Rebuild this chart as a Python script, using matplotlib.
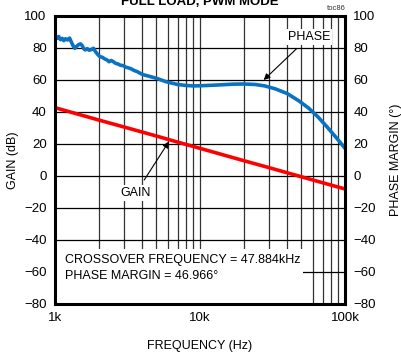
import matplotlib
matplotlib.use("Agg")
import matplotlib.pyplot as plt
import numpy as np
from matplotlib.ticker import FixedLocator, NullFormatter

plt.rcParams['font.family'] = ['Liberation Sans', 'DejaVu Sans']

# Gain curve (Hz, dB)
gain_freq = [1000, 1500, 2000, 3000, 5000, 7000, 10000, 20000, 30000, 47884, 70000, 100000]
gain_db = [42.7, 38.2, 35.0, 30.6, 25.0, 21.2, 17.3, 9.6, 5.2, 0.0, -4.2, -8.1]

# Phase curve (Hz, degrees)
phase_freq = [1000, 1030, 1060, 1090, 1120, 1150, 1180, 1220, 1260, 1300, 1340, 1370,
              1410, 1450, 1500, 1540, 1580, 1620, 1670, 1720, 1780, 1840, 1900, 1970,
              2040, 2120, 2200, 2280, 2360, 2440, 2520, 2620, 2720, 2830, 2950, 3080,
              3200, 3350, 3500, 3700, 3900, 4100, 4350, 4600, 4850, 5100, 5400, 5800,
              6300, 7000, 8000, 9000, 10000, 12000, 14000, 17000, 20000, 24000, 28000,
              33000, 40000, 48000, 56000, 65000, 75000, 87000, 100000]
phase_deg = [87.5, 86.0, 87.2, 85.2, 86.0, 84.6, 85.8, 85.0, 86.2, 83.5, 81.0, 79.8,
             81.0, 82.0, 82.6, 81.5, 79.5, 78.8, 79.6, 78.6, 79.0, 79.8, 77.8, 76.0,
             74.6, 74.2, 73.2, 72.6, 71.4, 72.2, 71.5, 70.4, 70.0, 69.2, 69.0, 68.0,
             67.6, 67.0, 66.0, 65.2, 64.0, 63.2, 62.6, 62.0, 61.4, 60.8, 60.0, 59.0,
             58.2, 57.2, 56.6, 56.3, 56.4, 56.7, 57.0, 57.4, 57.5, 57.2, 56.3,
             54.5, 51.5, 47.0, 42.5, 37.0, 30.8, 24.0, 17.3]

xticks = [1000, 10000, 100000]
xticklabels = ['1k', '10k', '100k']
yticks = [-80, -60, -40, -20, 0, 20, 40, 60, 80, 100]

fig = plt.figure(figsize=(4.01, 3.56), dpi=100)
ax = fig.add_axes([55/401, 1-304/356, 290/401, 288/356])

ax.set_xscale('log')
ax.set_xlim(1000, 100000)
ax.set_ylim(-80, 100)

minor = [m*10**e for e in (3, 4) for m in range(2, 10)]
ax.xaxis.set_major_locator(FixedLocator(xticks))
ax.xaxis.set_minor_locator(FixedLocator(minor))
ax.xaxis.set_minor_formatter(NullFormatter())
ax.set_xticks(xticks)
ax.set_xticklabels(xticklabels)
ax.set_yticks(yticks)
ax.grid(True, which='major', axis='y', color='black', lw=0.9)
ax.grid(True, which='both', axis='x', color='#333333', lw=0.9)
ax.tick_params(which='both', length=0, labelsize=9.5, pad=6, colors='black')

for s in ax.spines.values():
    s.set_linewidth(2.2)
    s.set_color('black')
    s.set_zorder(10)

ax.plot(gain_freq, gain_db, color='#ff0000', lw=2.6, zorder=3)
ax.plot(phase_freq, phase_deg, color='#0a72c2', lw=2.6, zorder=3)

ax2 = ax.twinx()
ax2.set_ylim(-80, 100)
ax2.set_yticks(yticks)
ax2.tick_params(length=0, labelsize=9.5, pad=6)
for s in ax2.spines.values():
    s.set_visible(False)

ax.set_xlabel('FREQUENCY (Hz)', fontsize=9, labelpad=11)
ax.set_ylabel('GAIN (dB)', fontsize=9, labelpad=4)
ax2.set_ylabel('PHASE MARGIN (°)', fontsize=9, labelpad=10)

# info box
ax.text(0.035, 0.125, 'CROSSOVER FREQUENCY = 47.884kHz\nPHASE MARGIN = 46.966°',
        transform=ax.transAxes, fontsize=9, va='center', ha='left', linespacing=1.55,
        zorder=5)
ax.add_patch(plt.Rectangle((0, 0), 0.855, 0.19, transform=ax.transAxes,
                           fc='white', ec='none', zorder=4))

# annotations
ax.annotate('PHASE', xy=(27500, 60), xytext=(56500, 87), fontsize=9,
            ha='center', va='center', zorder=6,
            bbox=dict(fc='white', ec='none', pad=1.5),
            arrowprops=dict(arrowstyle='-|>', color='black', lw=0.8,
                            mutation_scale=9, shrinkA=4, shrinkB=0))
ax.annotate('GAIN', xy=(6100, 21.5), xytext=(3620, -10.5), fontsize=9,
            ha='center', va='center', zorder=6,
            bbox=dict(fc='white', ec='none', pad=1.5),
            arrowprops=dict(arrowstyle='-|>', color='black', lw=0.8,
                            mutation_scale=9, shrinkA=4, shrinkB=0))

fig.text(200/401, 1-2/356, 'FULL LOAD, PWM MODE', fontsize=9.5, fontweight='bold',
         ha='center', va='center')
fig.text(346/401, 1-9/356, 'toc86', fontsize=5.5, ha='right', va='center', color='#333333')

fig.savefig('out.png', dpi=100)
